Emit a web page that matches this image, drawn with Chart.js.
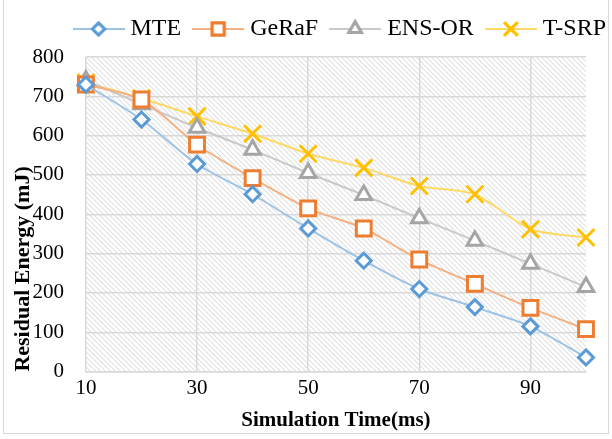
<!DOCTYPE html>
<html>
<head>
<meta charset="utf-8">
<script src="https://cdn.jsdelivr.net/npm/chart.js@4.4.1/dist/chart.umd.min.js"></script>
<style>
  html, body { margin: 0; padding: 0; background: #fff; }
  #wrap { position: relative; width: 612px; height: 439px; }
  #frame { position: absolute; left: 3px; top: -2px; width: 606px; height: 436px; border: 1px solid #d9d9d9; box-sizing: border-box; }
  canvas { position: absolute; left: 0; top: 0; }
</style>
</head>
<body>
<div id="wrap">
  <div id="frame"></div>
  <canvas id="energyChart" width="612" height="439"></canvas>
</div>
<script>
// Data
const simTimes = [10, 20, 30, 40, 50, 60, 70, 80, 90, 100];
const xTickValues = [10, 30, 50, 70, 90];
const mteValues   = [730, 641, 528, 451, 364, 282, 210, 164, 115, 36];
const gerafValues = [730, 692, 577, 492, 415, 364, 285, 223, 162, 108];
const ensorValues = [740, 680, 620, 564, 505, 449, 390, 333, 274, 215];
const tsrpValues  = [735, 695, 649, 605, 554, 518, 472, 451, 362, 341];

const FONT = "'Liberation Serif', 'Times New Roman', serif";

// Excel-like diagonal hatch behind the plot area
const hatchPlugin = {
    id: 'hatch',
    beforeDraw(chart) {
        const { ctx, chartArea: a } = chart;
        ctx.save();
        ctx.beginPath();
        ctx.rect(a.left, a.top, a.right - a.left, a.bottom - a.top);
        ctx.clip();
        ctx.strokeStyle = '#d4d4d4';
        ctx.lineWidth = 1;
        const h = a.bottom - a.top;
        for (let x = a.left - h; x < a.right; x += 5) {
            ctx.beginPath();
            ctx.moveTo(x, a.top);
            ctx.lineTo(x + h, a.bottom);
            ctx.stroke();
        }
        ctx.restore();
    }
};

// a bit more room under the legend
const legendGap = {
    id: 'legendGap',
    beforeInit(chart) {
        const fit = chart.legend.fit;
        chart.legend.fit = function () {
            fit.call(this);
            this.height += 6;
        };
    }
};

// small canvas: line with marker, for the legend
function legendIcon(lineColor, markColor, style, radius) {
    const c = document.createElement('canvas');
    c.width = 52; c.height = 24;
    const g = c.getContext('2d');
    g.strokeStyle = lineColor;
    g.lineWidth = 2;
    g.beginPath(); g.moveTo(0, 12); g.lineTo(52, 12); g.stroke();
    g.fillStyle = '#fff';
    g.strokeStyle = markColor;
    g.lineWidth = 3;
    Chart.helpers.drawPoint(g, { pointStyle: style, radius: radius, rotation: 0, borderWidth: 3 }, 26, 12);
    g.fill(); g.stroke();
    return c;
}

const series = [
    { label: 'MTE',    values: mteValues,   line: '#9dc3e6', mark: '#5b9bd5', style: 'rectRot',  r: 7.5 },
    { label: 'GeRaF',  values: gerafValues, line: '#f4b183', mark: '#ed7d31', style: 'rect',     r: 10.5 },
    { label: 'ENS-OR', values: ensorValues, line: '#c9c9c9', mark: '#a5a5a5', style: 'triangle', r: 9 },
    { label: 'T-SRP',  values: tsrpValues,  line: '#ffd966', mark: '#ffc000', style: 'crossRot', r: 12 }
];

function initEnergyChart() {
    const ctx = document.getElementById('energyChart').getContext('2d');
    new Chart(ctx, {
        type: 'line',
        data: {
            datasets: series.map(s => ({
                label: s.label,
                data: simTimes.map((t, i) => ({ x: t, y: s.values[i] })),
                borderColor: s.line,
                borderWidth: 2,
                tension: 0.25,
                clip: false,
                pointStyle: s.style,
                pointRadius: s.r,
                pointBorderWidth: 3,
                pointBorderColor: s.mark,
                pointBackgroundColor: '#ffffff',
                pointHoverRadius: s.r,
                legendIcon: legendIcon(s.line, s.mark, s.style, s.r * 0.8)
            }))
        },
        options: {
            responsive: false,
            animation: false,
            layout: { padding: { top: 0, right: -11, left: 10, bottom: 6 } },
            plugins: {
                tooltip: { enabled: false },
                legend: {
                    position: 'top',
                    align: 'end',
                    labels: {
                        usePointStyle: true,
                        pointStyleWidth: 40,
                        padding: 17,
                        color: '#000',
                        font: { family: FONT, size: 24 },
                        generateLabels(chart) {
                            return chart.data.datasets.map((d, i) => ({
                                text: d.label,
                                pointStyle: d.legendIcon,
                                fillStyle: '#fff',
                                strokeStyle: d.pointBorderColor,
                                lineWidth: 0,
                                datasetIndex: i,
                                fontColor: '#000'
                            }));
                        }
                    }
                }
            },
            scales: {
                x: {
                    type: 'linear',
                    min: 10,
                    max: 100,
                    afterBuildTicks: axis => { axis.ticks = xTickValues.map(v => ({ value: v })); },
                    grid: { color: '#d9d9d9', lineWidth: 1.5, drawTicks: false },
                    border: { display: true, color: '#d9d9d9', width: 1.5 },
                    ticks: { color: '#000', font: { family: FONT, size: 21 }, padding: 4, maxRotation: 0 },
                    title: {
                        display: true,
                        text: 'Simulation Time(ms)',
                        color: '#000',
                        font: { family: FONT, size: 21, weight: 'bold' },
                        padding: { top: 3, bottom: 0 }
                    }
                },
                y: {
                    min: 0,
                    max: 800,
                    ticks: { stepSize: 100, color: '#000', font: { family: FONT, size: 21 }, padding: 22 },
                    grid: { color: '#d9d9d9', lineWidth: 1.5, drawTicks: false },
                    border: { display: false },
                    title: {
                        display: true,
                        align: 'start',
                        text: 'Residual Energy (mJ)',
                        color: '#000',
                        font: { family: FONT, size: 22, weight: 'bold' },
                        padding: { top: 0, bottom: -26 }
                    }
                },
                // empty axis that only keeps the plot off the right edge
                spacer: {
                    position: 'right',
                    display: true,
                    grid: { display: false },
                    border: { display: false },
                    ticks: { display: false },
                    afterFit: s => { s.width = 37; }
                }
            }
        },
        plugins: [hatchPlugin, legendGap]
    });
}

document.addEventListener('DOMContentLoaded', initEnergyChart);
</script>
</body>
</html>
